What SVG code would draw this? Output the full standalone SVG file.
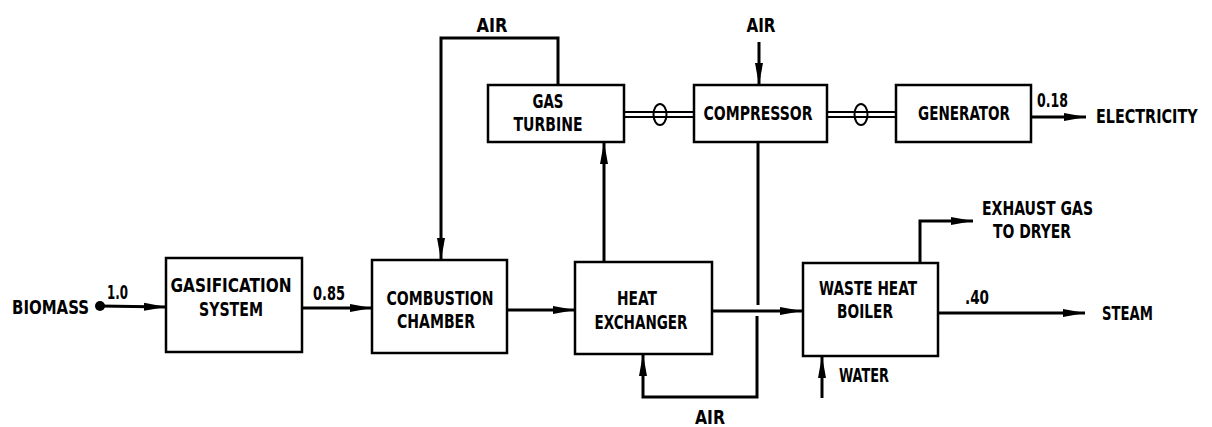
<svg xmlns="http://www.w3.org/2000/svg" width="1212" height="427" viewBox="0 0 1212 427">
<style>
.box{fill:#fff;stroke:#000;stroke-width:2.5}
.ln{fill:none;stroke:#000;stroke-width:3}
.sh{fill:none;stroke:#000;stroke-width:2}
text{font-family:"DejaVu Sans Condensed","DejaVu Sans",sans-serif;font-stretch:condensed;font-weight:bold;font-size:19px;fill:#000}
.c{text-anchor:middle}
</style>
<defs>
<marker id="arr" viewBox="0 0 22 10" refX="22" refY="5" markerWidth="22" markerHeight="10" markerUnits="userSpaceOnUse" orient="auto">
<path d="M0,1 L22,5 L0,9 Z" fill="#000"/>
</marker>
</defs>
<rect width="1212" height="427" fill="#fff"/>
<g id="connectors">
<circle cx="100" cy="306" r="5" fill="#000"/>
<line class="ln" x1="100" y1="306" x2="166" y2="307" marker-end="url(#arr)"/>
<line class="ln" x1="302" y1="308" x2="372" y2="308" marker-end="url(#arr)"/>
<path class="ln" d="M558,85 V38 H441 V260" marker-end="url(#arr)"/>
<line class="ln" x1="507" y1="310" x2="575" y2="310" marker-end="url(#arr)"/>
<line class="ln" x1="604" y1="262" x2="604" y2="142" marker-end="url(#arr)"/>
<path class="ln" d="M758,142 V305"/>
<path class="ln" d="M757,316 V397 H643 V354" marker-end="url(#arr)"/>
<line class="ln" x1="712" y1="311" x2="802" y2="311" marker-end="url(#arr)"/>
<line class="ln" x1="759" y1="42" x2="759" y2="85" marker-end="url(#arr)"/>
<line class="sh" x1="624" y1="112" x2="694" y2="112"/>
<line class="sh" x1="624" y1="117" x2="694" y2="117"/>
<ellipse class="sh" cx="660" cy="114.5" rx="6.5" ry="10.5"/>
<line class="sh" x1="827" y1="112" x2="896" y2="112"/>
<line class="sh" x1="827" y1="117" x2="896" y2="117"/>
<ellipse class="sh" cx="861" cy="114.5" rx="6.5" ry="10.5"/>
<line class="ln" x1="1031" y1="117" x2="1086" y2="117" marker-end="url(#arr)"/>
<path class="ln" d="M920,263 V221 H973" marker-end="url(#arr)"/>
<line class="ln" x1="938" y1="313" x2="1085" y2="313" marker-end="url(#arr)"/>
<line class="ln" x1="822" y1="398" x2="822" y2="356" marker-end="url(#arr)"/>
</g>
<g id="gas-turbine">
<rect class="box" x="488" y="85" width="136" height="57"/>
<text class="c" x="548" y="108" textLength="31" lengthAdjust="spacingAndGlyphs">GAS</text>
<text class="c" x="548" y="131" textLength="69" lengthAdjust="spacingAndGlyphs">TURBINE</text>
</g>
<g id="compressor">
<rect class="box" x="694" y="85" width="133" height="57"/>
<text class="c" x="758" y="120" textLength="109" lengthAdjust="spacingAndGlyphs">COMPRESSOR</text>
</g>
<g id="generator">
<rect class="box" x="896" y="85" width="135" height="57"/>
<text class="c" x="964" y="120" textLength="92" lengthAdjust="spacingAndGlyphs">GENERATOR</text>
</g>
<g id="gasification-system">
<rect class="box" x="166" y="258" width="136" height="94"/>
<text class="c" x="231" y="292" textLength="121" lengthAdjust="spacingAndGlyphs">GASIFICATION</text>
<text class="c" x="231" y="316" textLength="64" lengthAdjust="spacingAndGlyphs">SYSTEM</text>
</g>
<g id="combustion-chamber">
<rect class="box" x="372" y="260" width="135" height="93"/>
<text class="c" x="440" y="305" textLength="107" lengthAdjust="spacingAndGlyphs">COMBUSTION</text>
<text class="c" x="436" y="328" textLength="78" lengthAdjust="spacingAndGlyphs">CHAMBER</text>
</g>
<g id="heat-exchanger">
<rect class="box" x="575" y="262" width="137" height="92"/>
<text class="c" x="637" y="305" textLength="40" lengthAdjust="spacingAndGlyphs">HEAT</text>
<text class="c" x="641" y="329" textLength="93" lengthAdjust="spacingAndGlyphs">EXCHANGER</text>
</g>
<g id="waste-heat-boiler">
<rect class="box" x="803" y="263" width="135" height="93"/>
<text class="c" x="868" y="295" textLength="98" lengthAdjust="spacingAndGlyphs">WASTE HEAT</text>
<text class="c" x="865" y="318" textLength="56" lengthAdjust="spacingAndGlyphs">BOILER</text>
</g>
<g id="labels">
<text class="c" x="492" y="32" textLength="31" lengthAdjust="spacingAndGlyphs">AIR</text>
<text class="c" x="761" y="32" textLength="29" lengthAdjust="spacingAndGlyphs">AIR</text>
<text x="1037" y="107" textLength="31" lengthAdjust="spacingAndGlyphs">0.18</text>
<text transform="matrix(0.8 0 0 1 1096 123)" x="0" y="0" textLength="127" lengthAdjust="spacingAndGlyphs">ELECTRICITY</text>
<text x="12" y="314" textLength="77" lengthAdjust="spacingAndGlyphs">BIOMASS</text>
<text x="107" y="299" textLength="21" lengthAdjust="spacingAndGlyphs">1.0</text>
<text x="313" y="300" textLength="32" lengthAdjust="spacingAndGlyphs">0.85</text>
<text class="c" x="710" y="424" textLength="30" lengthAdjust="spacingAndGlyphs">AIR</text>
<text x="982" y="215" textLength="111" lengthAdjust="spacingAndGlyphs">EXHAUST GAS</text>
<text x="993" y="238" textLength="78" lengthAdjust="spacingAndGlyphs">TO DRYER</text>
<text x="965" y="304" textLength="24" lengthAdjust="spacingAndGlyphs">.40</text>
<text x="1102" y="320" textLength="51" lengthAdjust="spacingAndGlyphs">STEAM</text>
<text x="839" y="382" textLength="50" lengthAdjust="spacingAndGlyphs">WATER</text>
</g>
</svg>
